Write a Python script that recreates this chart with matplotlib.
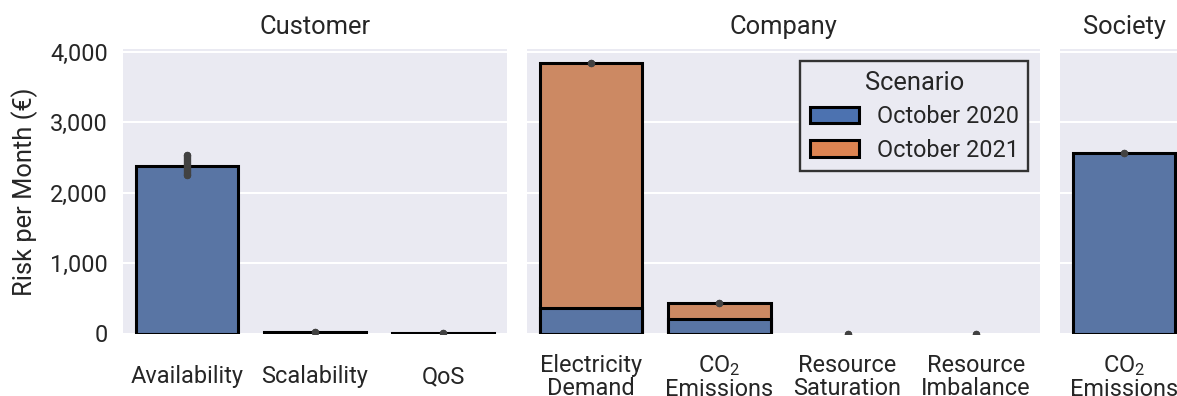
import matplotlib
matplotlib.use("Agg")
import matplotlib.pyplot as plt
from matplotlib.patches import Patch
from matplotlib.ticker import StrMethodFormatter

# monthly risk per stakeholder group (EUR)
customer_labels = ["Availability", "Scalability", "QoS"]
customer_2020 = [2380, 25, 4]
customer_err_lo = [2250, 25, 4]
customer_err_hi = [2530, 25, 4]

company_labels = ["Electricity\nDemand", "CO$_2$\nEmissions", "Resource\nSaturation", "Resource\nImbalance"]
company_2020 = [357, 201, 0, 0]
company_2021 = [3833, 428, 0, 0]
company_err_lo = [3833, 428, 0, 0]
company_err_hi = [3833, 428, 0, 0]

society_labels = ["CO$_2$\nEmissions"]
society_2020 = [2556]
society_err_lo = [2556]
society_err_hi = [2556]

scenarios = ["October 2020", "October 2021"]

# colours
blue = "#4c72b0"
orange = "#dd8452"
blue_bar = "#5975a4"
orange_bar = "#cc8963"
err_col = "#424242"
text_col = "#262626"

plt.rcParams["font.family"] = ["Roboto", "DejaVu Sans"]
plt.rcParams["mathtext.fontset"] = "custom"
plt.rcParams["mathtext.rm"] = "Roboto"
plt.rcParams["mathtext.it"] = "Roboto:italic"
plt.rcParams["text.color"] = text_col
plt.rcParams["axes.labelcolor"] = text_col
plt.rcParams["xtick.color"] = text_col
plt.rcParams["ytick.color"] = text_col

W, H = 1177, 396
fig = plt.figure(figsize=(W / 100, H / 100), dpi=100)

ymax = 4030
y_bottom = 333.5
y_top = 49.4


def make_axes(x0, x1):
    return fig.add_axes([x0 / W, 1 - y_bottom / H, (x1 - x0) / W, (y_bottom - y_top) / H])


ax_cust = make_axes(122.7, 507.3)
ax_comp = make_axes(526.7, 1040.0)
ax_soc = make_axes(1060.0, 1188.3)


def style(ax, labels, title):
    ax.set_facecolor("#eaeaf2")
    for s in ax.spines.values():
        s.set_visible(False)
    ax.set_ylim(0, ymax)
    ax.set_xlim(-0.5, len(labels) - 0.5)
    ax.set_yticks([0, 1000, 2000, 3000, 4000])
    ax.yaxis.set_major_formatter(StrMethodFormatter("{x:,.0f}"))
    ax.grid(axis="y", color="white", lw=1.5)
    ax.set_axisbelow(True)
    ax.set_xticks(range(len(labels)))
    ax.set_xticklabels(labels, fontsize=16.9, va="center", linespacing=1.0)
    ax.tick_params(axis="x", length=0, pad=31)
    ax.tick_params(axis="y", length=0, pad=10.6, labelsize=16.9)
    ax.set_title(title, fontsize=18.4, pad=11)


def bars(ax, values, color):
    xs = [i for i, v in enumerate(values) if v > 0]
    vs = [v for v in values if v > 0]
    ax.bar(xs, vs, width=0.8, color=color, edgecolor="black", linewidth=2.2, zorder=2)


def errs(ax, lo, hi):
    for i, (a, b) in enumerate(zip(lo, hi)):
        ax.plot([i, i], [a, b], color=err_col, lw=5.3, solid_capstyle="round",
                marker="o", ms=5.3, mew=0, zorder=3)


style(ax_cust, customer_labels, "Customer")
bars(ax_cust, customer_2020, blue_bar)
errs(ax_cust, customer_err_lo, customer_err_hi)
ax_cust.set_ylabel("Risk per Month (€)", fontsize=18.4, labelpad=9)

style(ax_comp, company_labels, "Company")
bars(ax_comp, company_2021, orange_bar)
bars(ax_comp, company_2020, blue_bar)
errs(ax_comp, company_err_lo, company_err_hi)
ax_comp.tick_params(axis="y", labelleft=False)

style(ax_soc, society_labels, "Society")
bars(ax_soc, society_2020, blue_bar)
errs(ax_soc, society_err_lo, society_err_hi)
ax_soc.tick_params(axis="y", labelleft=False)

handles = [Patch(facecolor=c, edgecolor="black", linewidth=2.2) for c in (blue, orange)]
leg = ax_comp.legend(handles, scenarios, title="Scenario", loc="upper right",
                     fontsize=16.9, title_fontsize=18.4, frameon=True, fancybox=False,
                     facecolor="#eaeaf2", edgecolor="#333333", framealpha=1,
                     handlelength=2.1, handleheight=0.72, handletextpad=0.77,
                     borderaxespad=0.5, labelspacing=0.45)
leg.get_frame().set_linewidth(1.7)

fig.savefig("out.png", dpi=100)
